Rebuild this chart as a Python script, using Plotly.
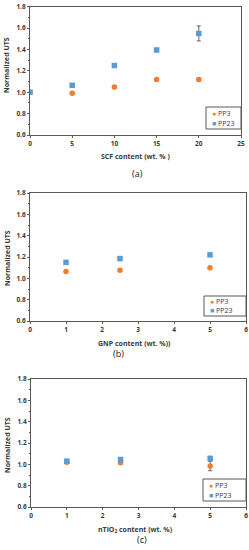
import plotly.graph_objects as go

# Panel (a): SCF
scf_x = [0, 5, 10, 15, 20]
scf_pp3 = [1.0, 0.99, 1.05, 1.12, 1.12]
scf_pp3_err = [0.01, 0.01, 0.01, 0.01, 0.015]
scf_pp23 = [1.0, 1.065, 1.25, 1.395, 1.55]
scf_pp23_err = [0.01, 0.01, 0.01, 0.015, 0.07]

# Panel (b): GNP
gnp_x = [1, 2.5, 5]
gnp_pp3 = [1.065, 1.075, 1.10]
gnp_pp3_err = [0.01, 0.01, 0.01]
gnp_pp23 = [1.15, 1.185, 1.22]
gnp_pp23_err = [0.015, 0.015, 0.015]

# Panel (c): nTiO2
tio_x = [1, 2.5, 5]
tio_pp3 = [1.02, 1.015, 0.985]
tio_pp3_err = [0.01, 0.015, 0.045]
tio_pp23 = [1.03, 1.045, 1.055]
tio_pp23_err = [0.01, 0.01, 0.02]

series_names = ["PP3", "PP23"]

ORANGE = "#ED7D31"
BLUE = "#5B9BD5"
W, H = 249, 550

panels = [
    dict(x=scf_x, p3=scf_pp3, e3=scf_pp3_err, p23=scf_pp23, e23=scf_pp23_err,
         xr=[0, 25], dt=5, title="SCF content (wt. % )", label="(a)",
         px=(30, 241), py=(6.7, 135), leg=(206, 107, 241, 129), ytc=65, xt=(135, 157), lab=(137, 173)),
    dict(x=gnp_x, p3=gnp_pp3, e3=gnp_pp3_err, p23=gnp_pp23, e23=gnp_pp23_err,
         xr=[0, 6], dt=1, title="GNP content (wt. %))", label="(b)",
         px=(30, 246), py=(193, 321), leg=(204, 296, 246, 316), ytc=258, xt=(134, 343), lab=(118, 353)),
    dict(x=tio_x, p3=tio_pp3, e3=tio_pp3_err, p23=tio_pp23, e23=tio_pp23_err,
         xr=[0, 6], dt=1, title="nTiO<sub>2</sub> content (wt. %)", label="(c)",
         px=(31, 246), py=(379, 507), leg=(203, 479, 246, 501), ytc=445, xt=(135, 529), lab=(142, 539)),
]

fig = go.Figure()
annotations = []
shapes = []
axcol = "#595959"
txtcol = "#3a3a3a"
FAM = "Open Sans, Arial"
tickfont = dict(family=FAM, size=6.5, color=txtcol, weight="bold")
labfont = dict(family=FAM, size=7, color=txtcol, weight="bold")

for i, p in enumerate(panels):
    n = "" if i == 0 else str(i + 1)
    xa, ya = "x" + n, "y" + n
    fig.add_trace(go.Scatter(
        x=p["x"], y=p["p3"], mode="markers", name=series_names[0], showlegend=False,
        marker=dict(symbol="circle", size=5.5, color=ORANGE),
        error_y=dict(type="data", array=p["e3"], color="#404040", thickness=0.8, width=2),
        xaxis=xa, yaxis=ya))
    fig.add_trace(go.Scatter(
        x=p["x"], y=p["p23"], mode="markers", name=series_names[1], showlegend=False,
        marker=dict(symbol="square", size=5.5, color=BLUE),
        error_y=dict(type="data", array=p["e23"], color="#404040", thickness=0.8, width=2),
        xaxis=xa, yaxis=ya))
    x0, x1 = p["px"]
    y0, y1 = p["py"]
    xd = [x0 / W, x1 / W]
    yd = [1 - y1 / H, 1 - y0 / H]
    common = dict(showline=True, linecolor=axcol, linewidth=1, mirror=True,
                  showgrid=False, zeroline=False, ticks="outside", ticklen=2,
                  tickcolor=axcol, tickfont=tickfont)
    fig.update_layout(**{
        "xaxis" + n: dict(domain=xd, range=p["xr"], dtick=p["dt"], anchor=ya, **common),
        "yaxis" + n: dict(domain=yd, range=[0.6, 1.8], dtick=0.2, tickformat=".1f", anchor=xa,
                          minor=dict(dtick=0.1, ticks="outside", ticklen=1.5, tickcolor=axcol),
                          **common),
    })
    # compact legend box
    lx0, ly0, lx1, ly1 = p["leg"]
    shapes.append(dict(type="rect", xref="paper", yref="paper",
                       x0=lx0 / W, x1=lx1 / W, y0=1 - ly1 / H, y1=1 - ly0 / H,
                       line=dict(color=axcol, width=1), fillcolor="white", layer="above"))
    hgt = ly1 - ly0
    for k, (sym, col, nm) in enumerate([("●", ORANGE, series_names[0]), ("■", BLUE, series_names[1])]):
        yy = ly0 + hgt * (0.28 + 0.46 * k)
        annotations.append(dict(
            text=f'<span style="color:{col}">{sym}</span> {nm}',
            x=(lx0 + 4) / W, y=1 - yy / H, xref="paper", yref="paper", showarrow=False,
            xanchor="left", yanchor="middle",
            font=dict(family=FAM, size=7, color=txtcol)))
    annotations.append(dict(text=p["title"], x=p["xt"][0] / W, y=1 - p["xt"][1] / H,
                            xref="paper", yref="paper", showarrow=False,
                            xanchor="center", yanchor="middle", font=labfont))
    annotations.append(dict(text="Normalized UTS", x=7 / W, y=1 - p["ytc"] / H,
                            xref="paper", yref="paper", showarrow=False, textangle=-90,
                            xanchor="center", yanchor="middle", font=labfont))
    annotations.append(dict(text=p["label"], x=p["lab"][0] / W, y=1 - p["lab"][1] / H,
                            xref="paper", yref="paper", showarrow=False,
                            xanchor="center", yanchor="middle",
                            font=dict(family=FAM, size=9, color="#202020")))

fig.update_layout(width=W, height=H, margin=dict(l=0, r=0, t=0, b=0, autoexpand=False),
                  paper_bgcolor="white", plot_bgcolor="white",
                  annotations=annotations, shapes=shapes, showlegend=False)
fig.write_html("out.html", config={"displayModeBar": False},
               post_script="document.body.style.margin='0px';")
